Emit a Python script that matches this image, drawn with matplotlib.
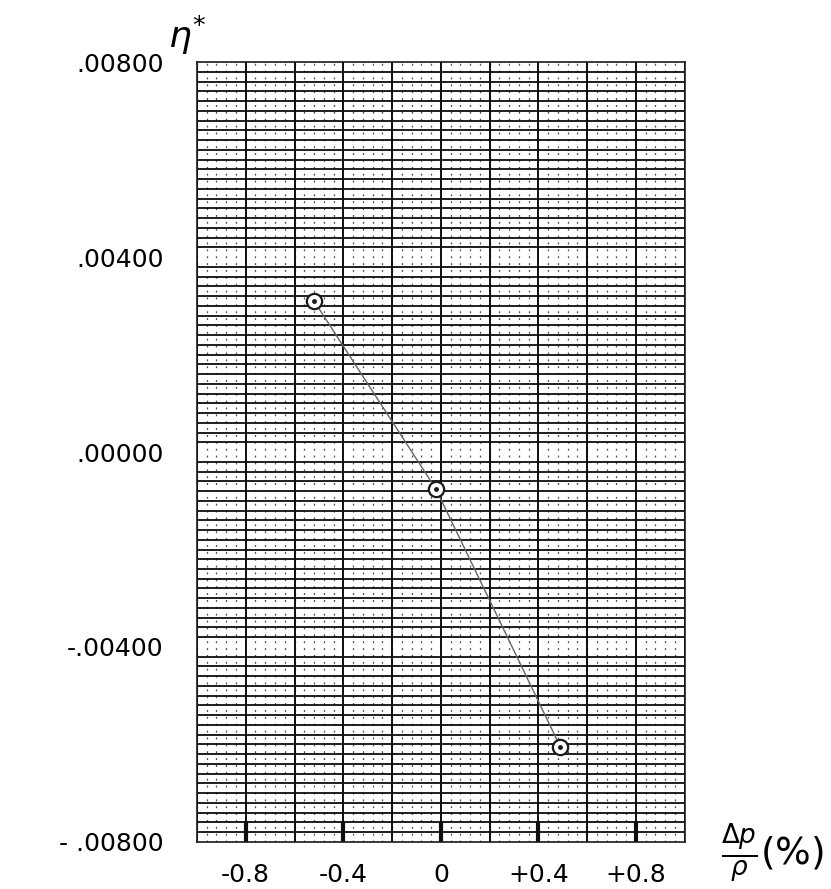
import numpy as np
import matplotlib.pyplot as plt
from matplotlib.ticker import MultipleLocator

dp_sur_p = [-0.52, -0.02, 0.49]
eta_star = [0.0031, -0.00076, -0.00605]

x_ticks = [-0.8, -0.4, 0.0, 0.4, 0.8]
x_labels = ["-0.8", "-0.4", "0", "+0.4", "+0.8"]
y_ticks = [0.008, 0.004, 0.0, -0.004, -0.008]
y_labels = [".00800", ".00400", ".00000", "-.00400", "- .00800"]

fig = plt.figure(figsize=(8.31, 8.89), dpi=100)
ax = fig.add_axes([0.237, 0.053, 0.587, 0.877])

ax.set_xlim(-1.0, 1.0)
ax.set_ylim(-0.008, 0.008)

# le quadrillage du papier
ax.yaxis.set_minor_locator(MultipleLocator(0.0002))
ax.grid(which="minor", axis="y", color="0.05", lw=1.3)
ax.xaxis.set_minor_locator(MultipleLocator(0.04))
ax.grid(which="minor", axis="x", color="0.3", lw=0.9, ls=(0, (1.5, 4)))
for xv in np.arange(-1.0, 1.01, 0.2):
    ax.axvline(xv, color="0.05", lw=1.4)
ax.tick_params(which="minor", length=0)

# la courbe
ax.plot(dp_sur_p, eta_star, color="0.4", lw=1.0, zorder=3)
ax.plot(dp_sur_p, eta_star, "o", mfc="white", mec="0.1", ms=11, mew=1.6, zorder=4)
ax.plot(dp_sur_p, eta_star, ".", color="0.1", ms=5, zorder=5)

ax.set_xticks(x_ticks)
ax.set_xticklabels(x_labels, fontsize=18)
ax.set_yticks(y_ticks)
ax.set_yticklabels(y_labels, fontsize=18)
ax.tick_params(axis="x", direction="in", length=15, width=3, pad=15, color="0.05")
ax.tick_params(axis="y", length=0, pad=24)
for s in ax.spines.values():
    s.set_color("0.1")
    s.set_linewidth(1.2)

fig.text(0.225, 0.96, r"$\eta^{*}$", fontsize=26, ha="center", va="center")
fig.text(0.93, 0.04, r"$\frac{\Delta p}{\rho}(\%)$", fontsize=27, ha="center", va="center")

plt.savefig("out.png", dpi=100)
